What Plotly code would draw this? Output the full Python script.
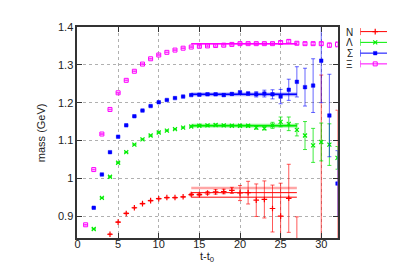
import plotly.graph_objects as go

W, H = 395, 276
# plot area in pixels
PX0, PX1, PY0, PY1 = 67, 329, 13.3, 229

t = list(range(1, 33))

xi = [0.877, 1.023, 1.117, 1.182, 1.226, 1.259, 1.283, 1.302, 1.316, 1.326, 1.333, 1.339,
      1.344, 1.347, 1.349, 1.350, 1.351, 1.352, 1.354, 1.356, 1.356, 1.356, 1.356, 1.356,
      1.359, 1.362, 1.357, 1.356, 1.356, 1.356, 1.352, 1.354]
xi_err = [0.001] * 14 + [0.002] * 10 + [0.003, 0.004, 0.003, 0.003, 0.003, 0.004, 0.006, 0.007]

sigma = [None, 0.922, 1.010, 1.069, 1.110, 1.140, 1.164, 1.179, 1.191, 1.201, 1.207, 1.212,
         1.216, 1.220, 1.221, 1.222, 1.222, 1.220, 1.223, 1.227, 1.224, 1.222, 1.224, 1.222,
         1.216, 1.234, 1.255, 1.241, 1.245, 1.311, 1.166, 0.986]
sigma_err = [0] + [0.001] * 13 + [0.002, 0.002, 0.002, 0.003, 0.003, 0.004, 0.004, 0.007,
                                  0.009, 0.012, 0.019, 0.028, 0.040, 0.050, 0.071, 0.111,
                                  0.109, 0.087]

lam = [None, 0.866, 0.948, 1.004, 1.041, 1.069, 1.089, 1.103, 1.113, 1.121, 1.126, 1.130,
       1.134, 1.137, 1.139, 1.140, 1.141, 1.140, 1.139, 1.139, 1.139, 1.134, 1.132, 1.140,
       1.149, 1.144, 1.128, 1.113, 1.087, 1.096, 1.089, 1.054]
lam_err = [0] + [0.001] * 13 + [0.002, 0.002, 0.002, 0.002, 0.002, 0.003, 0.003, 0.004,
                                0.004, 0.008, 0.013, 0.018, 0.016, 0.037, 0.045, 0.050,
                                0.055, 0.030]

nuc = [None, None, None, 0.852, 0.884, 0.907, 0.922, 0.933, 0.941, 0.946, 0.949, 0.949,
       0.951, 0.957, 0.957, 0.961, 0.964, 0.965, 0.968, 0.961, 0.962, 0.942, 0.944, 0.920,
       0.900, 0.947, 0.800, None, None, 0.820, None, 0.820]
nuc_err = [0, 0, 0] + [0.001] * 10 + [0.003, 0.003, 0.004, 0.006, 0.006, 0.008, 0.020,
                                      0.030, 0.043, 0.049, 0.062, 0.087, 0.090, 0.098, 0,
                                      0, 0.453, 0, 0.360]

fit_t = [14, 27]
fit_nuc, fit_nuc_err = 0.962, 0.012
fit_lam, fit_lam_err = 1.139, 0.005
fit_sigma, fit_sigma_err = 1.222, 0.005
fit_xi, fit_xi_err = 1.356, 0.002

names = ["N", "Λ", "Σ", "Ξ"]
RED, GREEN, BLUE, MAG = "#ff0000", "#00ee00", "#0000ff", "#ff00ff"
FONT = "Liberation Sans"

fig = go.Figure()


def band(val, err, rgba, line_col):
    fig.add_trace(go.Scatter(x=fit_t + fit_t[::-1], y=[val + err] * 2 + [val - err] * 2,
                             fill="toself", fillcolor=rgba, line=dict(width=0),
                             mode="lines", hoverinfo="skip", showlegend=False))
    fig.add_trace(go.Scatter(x=fit_t, y=[val] * 2, mode="lines",
                             line=dict(color=line_col, width=1.5), showlegend=False))


# N fit: three lines
fig.add_trace(go.Scatter(x=fit_t, y=[fit_nuc + fit_nuc_err] * 2, mode="lines",
                         line=dict(color="rgba(255,0,0,0.35)", width=2.5), showlegend=False))
fig.add_trace(go.Scatter(x=fit_t, y=[fit_nuc] * 2, mode="lines",
                         line=dict(color=RED, width=1), showlegend=False))
fig.add_trace(go.Scatter(x=fit_t, y=[fit_nuc - fit_nuc_err] * 2, mode="lines",
                         line=dict(color=RED, width=1), showlegend=False))
band(fit_lam, fit_lam_err, "rgba(0,230,0,0.45)", GREEN)
band(fit_sigma, fit_sigma_err, "rgba(0,0,255,0.35)", BLUE)
band(fit_xi, fit_xi_err, "rgba(255,0,255,0.5)", MAG)


def series(y, err, col, ecol, sym, size, lw):
    fig.add_trace(go.Scatter(
        x=t, y=y, mode="markers", showlegend=False,
        marker=dict(symbol=sym, size=size, color=col, line=dict(color=col, width=lw)),
        error_y=dict(type="data", array=err, visible=True, color=ecol, thickness=1, width=2)))


SYMS = [("cross-thin-open", 4, RED, 1.2), ("x-thin-open", 4, GREEN, 1.2),
        ("square", 3.5, BLUE, 0.5), ("square-open", 4, MAG, 1)]

series(nuc, nuc_err, RED, "rgba(255,0,0,0.65)", *SYMS[0][:2], SYMS[0][3])
series(lam, lam_err, GREEN, "rgba(0,230,0,0.75)", *SYMS[1][:2], SYMS[1][3])
series(sigma, sigma_err, BLUE, "rgba(0,0,255,0.6)", *SYMS[2][:2], SYMS[2][3])
series(xi, xi_err, MAG, "rgba(255,0,255,0.7)", *SYMS[3][:2], SYMS[3][3])

# legend drawn on a small helper axis
for i, (sym, sz, col, lw) in enumerate(SYMS):
    yy = i + 1
    fig.add_trace(go.Scatter(x=[0, 1], y=[yy, yy], mode="lines+markers", xaxis="x2", yaxis="y2",
                             line=dict(color=col, width=1),
                             marker=dict(symbol="line-ns-open", size=5, color=col,
                                         line=dict(color=col, width=1)),
                             showlegend=False, hoverinfo="skip"))
    fig.add_trace(go.Scatter(x=[0.5], y=[yy], mode="markers", xaxis="x2", yaxis="y2",
                             marker=dict(symbol=sym, size=sz, color=col,
                                         line=dict(color=col, width=lw)),
                             showlegend=False, hoverinfo="skip"))
    fig.add_annotation(x=346 / W, y=1 - (18 + 11 * i) / H, xref="paper", yref="paper",
                       text=names[i], showarrow=False, xanchor="right", yanchor="middle",
                       height=10, borderpad=0,
                       font=dict(size=10, color="#222", family=FONT))

ax_common = dict(showline=True, linecolor="#333", linewidth=2, mirror="ticks",
                 ticks="inside", ticklen=5, tickcolor="#333", tickwidth=1,
                 showgrid=True, gridcolor="#b0b0b0", griddash="dot", gridwidth=1,
                 zeroline=False, tickfont=dict(size=11, color="#222", family=FONT))

fig.update_layout(
    width=W, height=H, margin=dict(l=0, r=0, t=0, b=0),
    plot_bgcolor="white", paper_bgcolor="white",
    xaxis=dict(domain=[PX0 / W, PX1 / W], range=[0, 32], tickvals=[0, 5, 10, 15, 20, 25, 30],
               ticklabelstandoff=-5, **ax_common),
    yaxis=dict(domain=[1 - PY1 / H, 1 - PY0 / H], range=[0.842, 1.4],
               tickvals=[0.9, 1.0, 1.1, 1.2, 1.3, 1.4],
               ticktext=["0.9", "1", "1.1", "1.2", "1.3", "1.4"], **ax_common),
    xaxis2=dict(domain=[352 / W, 382 / W], range=[0, 1], visible=False, anchor="y2"),
    yaxis2=dict(domain=[1 - 56.5 / H, 1 - 12.5 / H], range=[4.5, 0.5], visible=False, anchor="x2"),
    showlegend=False,
)

fig.add_annotation(x=23 / W, y=1 - 121 / H, xref="paper", yref="paper", text="mass (GeV)",
                   textangle=-90, showarrow=False, font=dict(size=11, color="#222", family=FONT))
fig.add_annotation(x=198 / W, y=1 - 258 / H, xref="paper", yref="paper", text="t-t<sub>0</sub>",
                   showarrow=False, font=dict(size=11, color="#222", family=FONT))

fig.write_html("out.html")
